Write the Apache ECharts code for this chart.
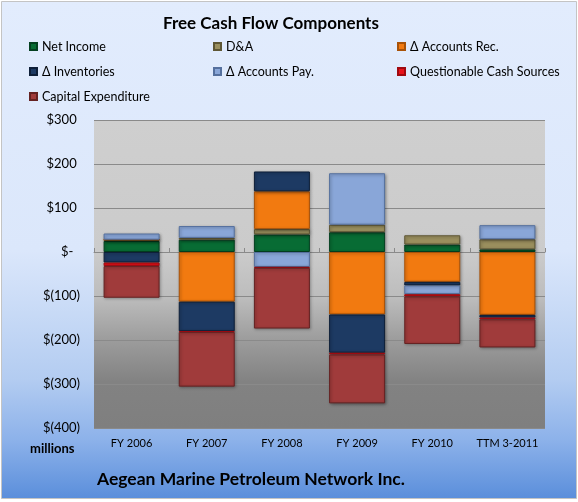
<!DOCTYPE html>
<html><head><meta charset="utf-8">
<script src="https://cdn.jsdelivr.net/npm/echarts@6/dist/echarts.min.js"></script>
<style>html,body{margin:0;padding:0;background:#fff}#c{width:578px;height:502px}</style>
</head><body><div id="c"></div>
<script>
var categories = ['FY 2006','FY 2007','FY 2008','FY 2009','FY 2010','TTM 3-2011'];
var netIncome     = [25, 28, 40, 45, 17, 6];
var depAmort      = [3, 4, 12, 17, 21, 23];
var accountsRec   = [0, -113, 86, -142, -68, -143];
var inventories   = [-24, -67, 45, -87, -8, -6];
var accountsPay   = [14, 27, -34, 117, -20, 32];
var questionable  = [-8, -2, -2, -4, -5, -4];
var capex         = [-72, -124, -138, -111, -108, -64];
var yTicks = [-400, -300, -200, -100, 0, 100, 200, 300];

var FONT = 'Lato, "Open Sans", sans-serif';
var seriesDefs = [
  {name:'Net Income', data:netIncome, color:'#086c34', border:'#044020'},
  {name:'D&A', data:depAmort, color:'#9a8f5e', border:'#5e5634'},
  {name:'\u0394 Accounts Rec.', data:accountsRec, color:'#f27a10', border:'#a85208'},
  {name:'\u0394 Inventories', data:inventories, color:'#1d3a63', border:'#0e1f38'},
  {name:'\u0394 Accounts Pay.', data:accountsPay, color:'#89a6d8', border:'#55709e'},
  {name:'Questionable Cash Sources', data:questionable, color:'#e8121a', border:'#a00a10'},
  {name:'Capital Expenditure', data:capex, color:'#a03b3b', border:'#652222'}
];

var series = seriesDefs.map(function(s){
  return {
    name: s.name, type:'bar', stack:'fcf', xAxisIndex:0, yAxisIndex:0,
    data: s.data, barWidth: 56,
    itemStyle: {color: s.color, borderColor: s.border, borderWidth: 1,
      shadowColor:'rgba(0,0,0,0.35)', shadowBlur:3, shadowOffsetX:1, shadowOffsetY:1},
    emphasis: {disabled:true}, animation:false
  };
});

function legendCol(left, names){
  return {
    orient:'vertical', left:left, top:34, itemWidth:7, itemHeight:7, itemGap:10,
    icon:'rect', selectedMode:false, data:names,
    textStyle:{fontFamily:FONT, fontSize:12.5, color:'#000', lineHeight:15}
  };
}

var chart = echarts.init(document.getElementById('c'), null, {renderer:'canvas'});
chart.setOption({
  animation:false,
  graphic:[
    {type:'rect', z:-10, shape:{x:1.5, y:1.5, width:575, height:497},
      style:{fill:new echarts.graphic.LinearGradient(0,0,0,1,[
        {offset:0,color:'#e2ecfd'},{offset:0.5,color:'#dbe7fb'},
        {offset:0.76,color:'#b3ccf1'},{offset:0.88,color:'#8db2ea'},{offset:1,color:'#5a8edb'}]),
        stroke:'#c4c4c4', lineWidth:1}, silent:true},
    {type:'text', left:163, top:15, style:{text:'Free Cash Flow Components', font:'bold 17px '+FONT, fill:'#000'}},
    {type:'text', left:30, top:442, style:{text:'millions', font:'bold 13px '+FONT, fill:'#000'}},
    {type:'text', left:97, top:470, style:{text:'Aegean Marine Petroleum Network Inc.', font:'bold 17.5px '+FONT, fill:'#000'}}
  ],
  legend:[
    legendCol(24, [seriesDefs[0].name, seriesDefs[3].name, seriesDefs[6].name]),
    legendCol(208, [seriesDefs[1].name, seriesDefs[4].name]),
    legendCol(392, [seriesDefs[2].name, seriesDefs[5].name])
  ],
  grid:{left:94, right:33, top:120, bottom:74, show:true, borderWidth:0,
    backgroundColor:new echarts.graphic.LinearGradient(0,0,0,1,[
      {offset:0,color:'#cfcfcf'},{offset:0.43,color:'#cbcbcb'},{offset:0.58,color:'#bcbcbc'},
      {offset:0.71,color:'#9d9d9d'},{offset:0.85,color:'#828282'},{offset:1,color:'#7f7f7f'}])},
  xAxis:[
    {type:'category', data:categories, position:'bottom',
      axisLine:{show:false, onZero:false}, axisTick:{show:false},
      axisLabel:{fontFamily:FONT, fontSize:11, color:'#000', margin:10, interval:0}},
    {type:'category', data:categories, position:'bottom',
      axisLine:{show:true, onZero:true, lineStyle:{color:'#8a8a8a', width:1}},
      axisTick:{show:true, inside:true, length:4, interval:0, lineStyle:{color:'#8a8a8a'}},
      axisLabel:{show:false}}
  ],
  yAxis:{type:'value', min:-400, max:300, interval:100,
    axisLine:{show:false}, axisTick:{show:false},
    splitLine:{lineStyle:{color:'#8a8a8a', width:1}},
    axisLabel:{fontFamily:FONT, fontSize:13, color:'#000', margin:14,
      formatter:function(v){
        if (yTicks.indexOf(v) < 0) return '';
        if (v === 0) return '$-  ';
        if (v > 0) return '$' + v + ' ';
        return '$(' + (-v) + ')';
      }}},
  series: series
});
</script></body></html>
